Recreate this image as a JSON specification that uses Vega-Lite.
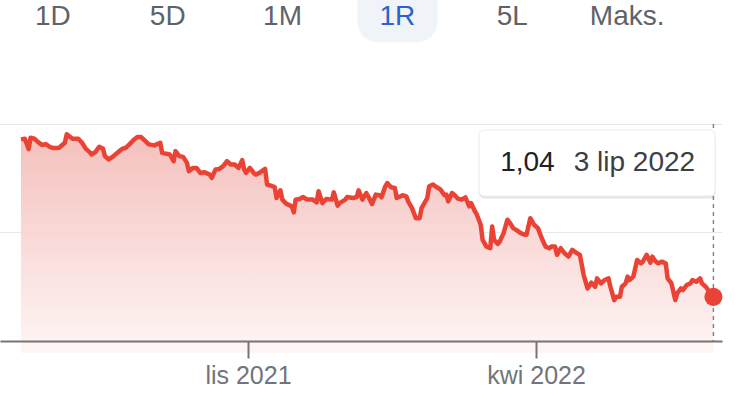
{
  "$schema": "https://vega.github.io/schema/vega-lite/v6.json",
  "padding": 0,
  "background": "white",
  "spacing": 81,
  "config": {"view": {"stroke": null}, "font": "Liberation Sans"},
  "datasets": {
    "tabs": [{"label": "1D"}, {"label": "5D"}, {"label": "1M"}, {"label": "1R"}, {"label": "5L"}, {"label": "Maks."}],
    "fx": [
      {"d": "2021-07-05", "v": 1.1858}, {"d": "2021-07-07", "v": 1.1864}, {"d": "2021-07-09", "v": 1.1769}, {"d": "2021-07-10", "v": 1.1873},
      {"d": "2021-07-12", "v": 1.1864}, {"d": "2021-07-14", "v": 1.1833}, {"d": "2021-07-16", "v": 1.1806}, {"d": "2021-07-18", "v": 1.1815},
      {"d": "2021-07-20", "v": 1.179}, {"d": "2021-07-22", "v": 1.1778}, {"d": "2021-07-25", "v": 1.1781}, {"d": "2021-07-28", "v": 1.1827},
      {"d": "2021-07-29", "v": 1.1905}, {"d": "2021-08-01", "v": 1.1864}, {"d": "2021-08-04", "v": 1.1864}, {"d": "2021-08-06", "v": 1.1827},
      {"d": "2021-08-08", "v": 1.1771}, {"d": "2021-08-10", "v": 1.1741}, {"d": "2021-08-11", "v": 1.1719}, {"d": "2021-08-13", "v": 1.1741},
      {"d": "2021-08-15", "v": 1.179}, {"d": "2021-08-17", "v": 1.1771}, {"d": "2021-08-18", "v": 1.1704}, {"d": "2021-08-20", "v": 1.1673},
      {"d": "2021-08-22", "v": 1.1697}, {"d": "2021-08-25", "v": 1.1741}, {"d": "2021-08-27", "v": 1.1771}, {"d": "2021-08-29", "v": 1.1781},
      {"d": "2021-09-01", "v": 1.1833}, {"d": "2021-09-02", "v": 1.1852}, {"d": "2021-09-04", "v": 1.188}, {"d": "2021-09-06", "v": 1.188},
      {"d": "2021-09-10", "v": 1.1812}, {"d": "2021-09-13", "v": 1.1803}, {"d": "2021-09-16", "v": 1.1827}, {"d": "2021-09-17", "v": 1.1734},
      {"d": "2021-09-21", "v": 1.1719}, {"d": "2021-09-23", "v": 1.1657}, {"d": "2021-09-24", "v": 1.175}, {"d": "2021-09-26", "v": 1.1704},
      {"d": "2021-09-28", "v": 1.1697}, {"d": "2021-09-30", "v": 1.1642}, {"d": "2021-10-01", "v": 1.1565}, {"d": "2021-10-03", "v": 1.1595},
      {"d": "2021-10-05", "v": 1.1595}, {"d": "2021-10-07", "v": 1.1549}, {"d": "2021-10-09", "v": 1.1556}, {"d": "2021-10-12", "v": 1.1534},
      {"d": "2021-10-13", "v": 1.1503}, {"d": "2021-10-15", "v": 1.1581}, {"d": "2021-10-17", "v": 1.1586}, {"d": "2021-10-19", "v": 1.1611},
      {"d": "2021-10-21", "v": 1.1657}, {"d": "2021-10-23", "v": 1.1627}, {"d": "2021-10-25", "v": 1.1627}, {"d": "2021-10-27", "v": 1.1595},
      {"d": "2021-10-29", "v": 1.1667}, {"d": "2021-10-30", "v": 1.1581}, {"d": "2021-10-31", "v": 1.1549}, {"d": "2021-11-02", "v": 1.1595},
      {"d": "2021-11-04", "v": 1.1549}, {"d": "2021-11-05", "v": 1.1534}, {"d": "2021-11-07", "v": 1.1549}, {"d": "2021-11-10", "v": 1.1586},
      {"d": "2021-11-11", "v": 1.1442}, {"d": "2021-11-13", "v": 1.1432}, {"d": "2021-11-15", "v": 1.1419}, {"d": "2021-11-16", "v": 1.1318},
      {"d": "2021-11-18", "v": 1.1389}, {"d": "2021-11-19", "v": 1.1303}, {"d": "2021-11-21", "v": 1.1266}, {"d": "2021-11-24", "v": 1.1241},
      {"d": "2021-11-25", "v": 1.1185}, {"d": "2021-11-26", "v": 1.1303}, {"d": "2021-11-28", "v": 1.1308}, {"d": "2021-11-30", "v": 1.1327},
      {"d": "2021-12-02", "v": 1.1303}, {"d": "2021-12-05", "v": 1.1303}, {"d": "2021-12-07", "v": 1.1278}, {"d": "2021-12-08", "v": 1.138},
      {"d": "2021-12-10", "v": 1.1271}, {"d": "2021-12-12", "v": 1.1308}, {"d": "2021-12-15", "v": 1.1303}, {"d": "2021-12-16", "v": 1.137},
      {"d": "2021-12-18", "v": 1.1247}, {"d": "2021-12-19", "v": 1.1271}, {"d": "2021-12-22", "v": 1.1303}, {"d": "2021-12-23", "v": 1.1327},
      {"d": "2021-12-26", "v": 1.1318}, {"d": "2021-12-28", "v": 1.1327}, {"d": "2021-12-29", "v": 1.1389}, {"d": "2021-12-31", "v": 1.1303},
      {"d": "2022-01-02", "v": 1.1364}, {"d": "2022-01-03", "v": 1.1333}, {"d": "2022-01-05", "v": 1.1262}, {"d": "2022-01-07", "v": 1.1349},
      {"d": "2022-01-09", "v": 1.1343}, {"d": "2022-01-10", "v": 1.1324}, {"d": "2022-01-12", "v": 1.1426}, {"d": "2022-01-13", "v": 1.1456},
      {"d": "2022-01-15", "v": 1.1417}, {"d": "2022-01-17", "v": 1.141}, {"d": "2022-01-18", "v": 1.1318}, {"d": "2022-01-20", "v": 1.1333},
      {"d": "2022-01-21", "v": 1.1343}, {"d": "2022-01-23", "v": 1.1333}, {"d": "2022-01-24", "v": 1.1287}, {"d": "2022-01-26", "v": 1.1225},
      {"d": "2022-01-28", "v": 1.1132}, {"d": "2022-01-30", "v": 1.1132}, {"d": "2022-01-31", "v": 1.1225}, {"d": "2022-02-03", "v": 1.1318},
      {"d": "2022-02-04", "v": 1.1426}, {"d": "2022-02-06", "v": 1.1442}, {"d": "2022-02-08", "v": 1.1417}, {"d": "2022-02-10", "v": 1.1395},
      {"d": "2022-02-12", "v": 1.1343}, {"d": "2022-02-13", "v": 1.1349}, {"d": "2022-02-14", "v": 1.1287}, {"d": "2022-02-16", "v": 1.1364},
      {"d": "2022-02-18", "v": 1.1333}, {"d": "2022-02-19", "v": 1.1312}, {"d": "2022-02-21", "v": 1.1303}, {"d": "2022-02-23", "v": 1.1324},
      {"d": "2022-02-25", "v": 1.1241}, {"d": "2022-02-26", "v": 1.1271}, {"d": "2022-02-28", "v": 1.1194}, {"d": "2022-03-01", "v": 1.1164},
      {"d": "2022-03-03", "v": 1.1071}, {"d": "2022-03-04", "v": 1.0932}, {"d": "2022-03-06", "v": 1.087}, {"d": "2022-03-08", "v": 1.0855},
      {"d": "2022-03-09", "v": 1.1056}, {"d": "2022-03-10", "v": 1.0932}, {"d": "2022-03-12", "v": 1.0895}, {"d": "2022-03-13", "v": 1.0917},
      {"d": "2022-03-15", "v": 1.0994}, {"d": "2022-03-17", "v": 1.1118}, {"d": "2022-03-19", "v": 1.1071}, {"d": "2022-03-20", "v": 1.104},
      {"d": "2022-03-22", "v": 1.1019}, {"d": "2022-03-24", "v": 1.0994}, {"d": "2022-03-26", "v": 1.0979}, {"d": "2022-03-27", "v": 1.0979},
      {"d": "2022-03-29", "v": 1.1132}, {"d": "2022-03-31", "v": 1.1071}, {"d": "2022-04-02", "v": 1.104}, {"d": "2022-04-04", "v": 1.0947},
      {"d": "2022-04-06", "v": 1.087}, {"d": "2022-04-08", "v": 1.0855}, {"d": "2022-04-09", "v": 1.087}, {"d": "2022-04-11", "v": 1.087},
      {"d": "2022-04-12", "v": 1.0794}, {"d": "2022-04-14", "v": 1.0855}, {"d": "2022-04-16", "v": 1.0808}, {"d": "2022-04-18", "v": 1.0778},
      {"d": "2022-04-20", "v": 1.084}, {"d": "2022-04-22", "v": 1.0815}, {"d": "2022-04-24", "v": 1.0794}, {"d": "2022-04-26", "v": 1.0608},
      {"d": "2022-04-28", "v": 1.0484}, {"d": "2022-04-30", "v": 1.0537}, {"d": "2022-05-02", "v": 1.05}, {"d": "2022-05-03", "v": 1.0577},
      {"d": "2022-05-05", "v": 1.0531}, {"d": "2022-05-07", "v": 1.0562}, {"d": "2022-05-09", "v": 1.0577}, {"d": "2022-05-10", "v": 1.05},
      {"d": "2022-05-12", "v": 1.0377}, {"d": "2022-05-13", "v": 1.0407}, {"d": "2022-05-15", "v": 1.0407}, {"d": "2022-05-16", "v": 1.05},
      {"d": "2022-05-18", "v": 1.0531}, {"d": "2022-05-19", "v": 1.0593}, {"d": "2022-05-20", "v": 1.0562}, {"d": "2022-05-22", "v": 1.0593},
      {"d": "2022-05-24", "v": 1.0747}, {"d": "2022-05-26", "v": 1.0716}, {"d": "2022-05-27", "v": 1.0731}, {"d": "2022-05-29", "v": 1.0794},
      {"d": "2022-05-31", "v": 1.0722}, {"d": "2022-06-01", "v": 1.0778}, {"d": "2022-06-02", "v": 1.0747}, {"d": "2022-06-04", "v": 1.0716},
      {"d": "2022-06-06", "v": 1.0731}, {"d": "2022-06-08", "v": 1.0716}, {"d": "2022-06-09", "v": 1.0577}, {"d": "2022-06-11", "v": 1.0531},
      {"d": "2022-06-13", "v": 1.0377}, {"d": "2022-06-14", "v": 1.0438}, {"d": "2022-06-16", "v": 1.0484}, {"d": "2022-06-17", "v": 1.0469},
      {"d": "2022-06-19", "v": 1.0516}, {"d": "2022-06-21", "v": 1.0531}, {"d": "2022-06-22", "v": 1.0562}, {"d": "2022-06-24", "v": 1.0546},
      {"d": "2022-06-26", "v": 1.0577}, {"d": "2022-06-27", "v": 1.0531}, {"d": "2022-06-29", "v": 1.05}, {"d": "2022-06-30", "v": 1.0475},
      {"d": "2022-07-02", "v": 1.0423}, {"d": "2022-07-03", "v": 1.0407}
    ]
  },
  "vconcat": [
    {
      "width": 680,
      "height": 42,
      "data": {"name": "tabs"},
      "encoding": {
        "x": {"field": "label", "type": "nominal", "scale": {"type": "point", "padding": 0.46, "domain": ["1D", "5D", "1M", "1R", "5L", "Maks."]}, "axis": null}
      },
      "layer": [
        {
          "transform": [{"filter": "datum.label === '1R'"}],
          "mark": {"type": "bar", "width": 80, "color": "#f0f4f9", "cornerRadiusBottomLeft": 20, "cornerRadiusBottomRight": 20}
        },
        {
          "mark": {"type": "text", "fontSize": 28, "dy": -4, "baseline": "middle"},
          "encoding": {
            "text": {"field": "label"},
            "color": {"condition": {"test": "datum.label === '1R'", "value": "#2a62cf"}, "value": "#5f6368"}
          }
        }
      ]
    },
    {
      "width": 722,
      "height": 217,
      "data": {"name": "fx", "format": {"parse": {"d": "date"}}},
      "layer": [
        {
          "mark": {"type": "area", "color": {"gradient": "linear", "x1": 0, "y1": 0, "x2": 0, "y2": 1, "stops": [{"offset": 0, "color": "#f4c0bd"}, {"offset": 1, "color": "#fef6f5"}]}},
          "encoding": {
            "x": {
              "field": "d", "type": "temporal",
              "scale": {"type": "utc", "domain": [{"year": 2021, "month": 6, "date": 24, "utc": true}, {"year": 2022, "month": 7, "date": 7, "hours": 12, "utc": true}]},
              "axis": {
                "values": [{"year": 2021, "month": 11, "date": 1, "utc": true}, {"year": 2022, "month": 4, "date": 1, "utc": true}],
                "labelExpr": "(utcmonth(datum.value) == 10 ? 'lis' : 'kwi') + ' ' + utcyear(datum.value)",
                "title": null, "grid": false, "zindex": 1,
                "domainColor": "#757575", "domainWidth": 2,
                "tickColor": "#757575", "tickWidth": 2, "tickSize": 17,
                "labelFontSize": 25, "labelColor": "#70757a", "labelPadding": 5, "labelFont": "Liberation Sans"
              }
            },
            "y": {
              "field": "v", "type": "quantitative",
              "scale": {"domain": [1.0, 1.2], "nice": false, "zero": false},
              "axis": {"values": [1.1, 1.2], "grid": true, "labels": false, "ticks": false, "domain": false, "title": null, "gridColor": "#e8e8e8", "gridWidth": 1}
            },
            "y2": {"datum": 0.989}
          }
        },
        {
          "mark": {"type": "line", "color": "#ea4335", "strokeWidth": 4.5, "strokeJoin": "round"},
          "encoding": {
            "x": {"field": "d", "type": "temporal"},
            "y": {"field": "v", "type": "quantitative"}
          }
        },
        {
          "data": {"values": [{}]},
          "mark": {"type": "rule", "color": "#80868b", "strokeDash": [4, 4], "strokeWidth": 1.5},
          "encoding": {
            "x": {"datum": {"year": 2022, "month": 7, "date": 3, "utc": true}, "type": "temporal"},
            "y": {"datum": 1.2},
            "y2": {"datum": 1.0}
          }
        },
        {
          "data": {"values": [{}]},
          "mark": {"type": "rect", "color": "#000000", "opacity": 0.1, "cornerRadius": 6},
          "encoding": {
            "x": {"datum": {"year": 2022, "month": 3, "date": 2, "utc": true}, "type": "temporal"},
            "x2": {"datum": {"year": 2022, "month": 7, "date": 4, "hours": 2, "utc": true}},
            "y": {"datum": 1.1926},
            "y2": {"datum": 1.1313}
          }
        },
        {
          "data": {"values": [{}]},
          "mark": {"type": "rect", "color": "#ffffff", "stroke": "#ececec", "strokeWidth": 1, "cornerRadius": 5},
          "encoding": {
            "x": {"datum": {"year": 2022, "month": 3, "date": 2, "hours": 3, "utc": true}, "type": "temporal"},
            "x2": {"datum": {"year": 2022, "month": 7, "date": 3, "hours": 21, "utc": true}},
            "y": {"datum": 1.1945},
            "y2": {"datum": 1.1336}
          }
        },
        {
          "data": {"values": [{}]},
          "mark": {"type": "text", "text": "1,04", "fontSize": 28, "align": "left", "baseline": "middle", "color": "#202124"},
          "encoding": {
            "x": {"datum": {"year": 2022, "month": 3, "date": 13, "hours": 5, "utc": true}, "type": "temporal"},
            "y": {"datum": 1.1645}
          }
        },
        {
          "data": {"values": [{}]},
          "mark": {"type": "text", "text": "3 lip 2022", "fontSize": 28, "align": "right", "baseline": "middle", "color": "#3c4043"},
          "encoding": {
            "x": {"datum": {"year": 2022, "month": 6, "date": 23, "hours": 10, "utc": true}, "type": "temporal"},
            "y": {"datum": 1.1645}
          }
        },
        {
          "transform": [{"filter": "utcyear(datum.d) == 2022 && utcmonth(datum.d) == 6 && utcdate(datum.d) == 3"}],
          "mark": {"type": "circle", "size": 330, "color": "#ea4335", "opacity": 1},
          "encoding": {
            "x": {"field": "d", "type": "temporal"},
            "y": {"field": "v", "type": "quantitative"}
          }
        }
      ]
    }
  ]
}
